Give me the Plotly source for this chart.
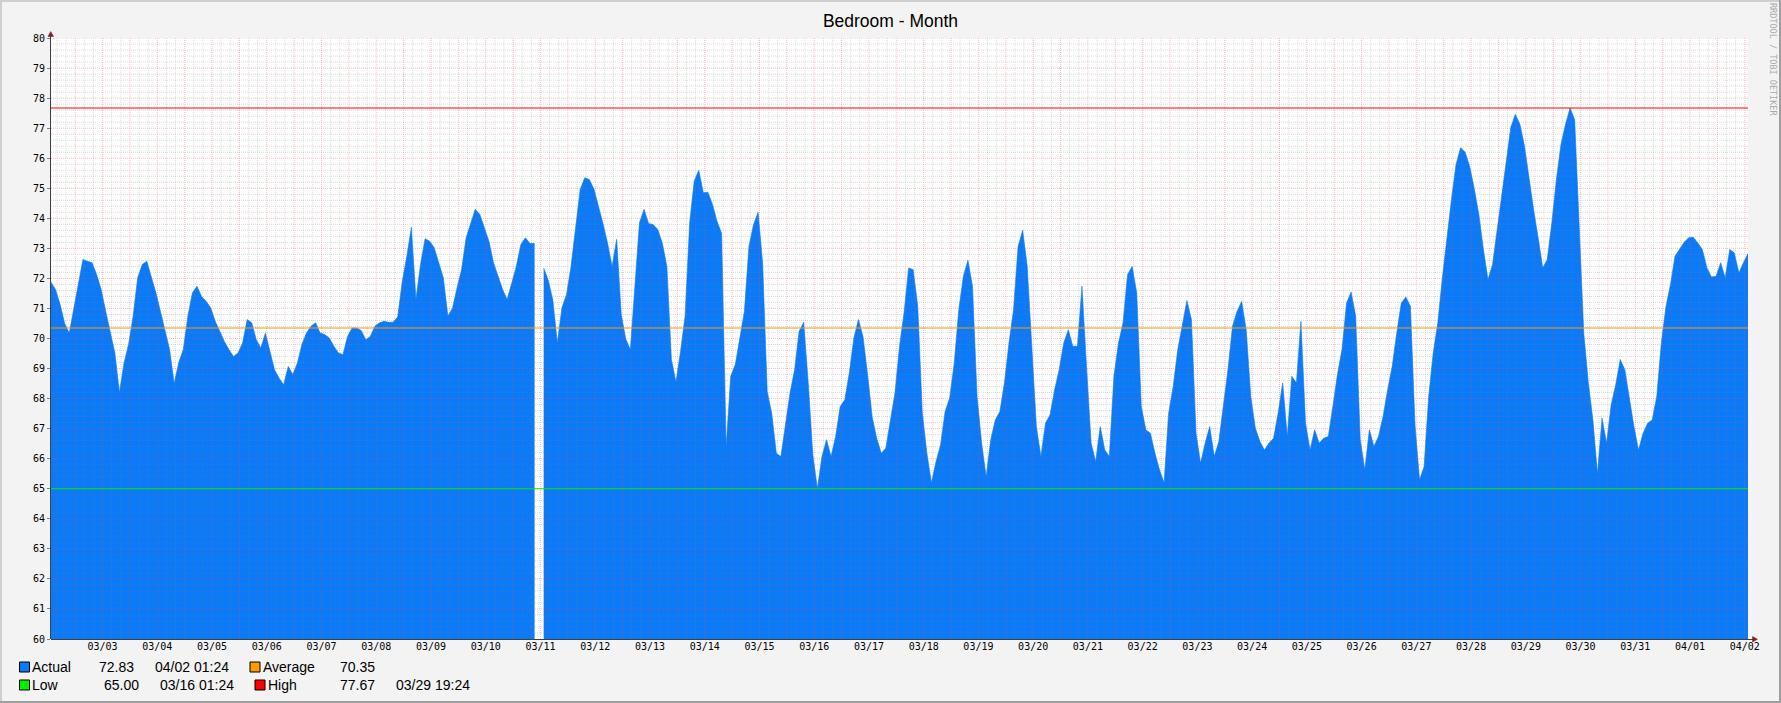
import plotly.graph_objects as go
from datetime import datetime, timedelta

# ---------------- data ----------------
title_text = "Bedroom - Month"
start_time = datetime(2014, 3, 2, 1, 24)
step_hours = 2

# one row per day, 2-hour samples starting 03/02 01:24 (None = missing sample)
temperature = [
    71.87, 71.63, 71.13, 70.50, 70.18, 71.02, 71.90, 72.63, 72.57, 72.52, 72.13, 71.63,
    70.90, 70.18, 69.52, 68.20, 69.18, 69.80, 70.74, 72.02, 72.46, 72.57, 72.07, 71.52,
    70.90, 70.24, 69.63, 68.50, 69.20, 69.63, 70.74, 71.52, 71.74, 71.40, 71.24, 71.02,
    70.57, 70.24, 69.90, 69.63, 69.40, 69.52, 69.85, 70.63, 70.52, 69.96, 69.68, 70.18,
    69.52, 68.96, 68.68, 68.46, 69.07, 68.80, 69.18, 69.80, 70.18, 70.41, 70.52, 70.18,
    70.13, 70.02, 69.74, 69.52, 69.46, 70.07, 70.35, 70.35, 70.27, 69.96, 70.07, 70.41,
    70.52, 70.57, 70.54, 70.54, 70.72, 71.90, 72.74, 73.70, 71.30, 72.46, 73.32, 73.24,
    73.02, 72.52, 72.02, 70.75, 71.00, 71.68, 72.29, 73.35, 73.85, 74.30, 74.13, 73.65,
    73.24, 72.52, 72.07, 71.63, 71.30, 71.87, 72.40, 73.13, 73.35, 73.16, 73.16, None,
    72.35, 71.94, 71.29, 69.85, 71.02, 71.46, 72.40, 73.74, 74.96, 75.35, 75.29, 74.98,
    74.43, 73.83, 73.18, 72.40, 73.30, 70.80, 69.98, 69.63, 71.74, 73.85, 74.30, 73.83,
    73.79, 73.63, 73.18, 72.40, 69.30, 68.55, 69.57, 70.74, 73.85, 75.24, 75.60, 74.85,
    74.87, 74.46, 73.90, 73.50, 66.40, 68.74, 69.13, 69.96, 70.90, 73.07, 73.79, 74.20,
    72.50, 68.24, 67.50, 66.18, 66.07, 67.13, 68.18, 68.96, 70.24, 70.54, 68.52, 66.13,
    65.00, 66.07, 66.63, 66.07, 66.74, 67.74, 67.96, 68.85, 70.02, 70.63, 70.07, 68.80,
    67.40, 66.68, 66.18, 66.35, 67.29, 68.18, 69.74, 70.85, 72.35, 72.29, 71.07, 67.52,
    66.18, 65.20, 65.90, 66.46, 67.57, 68.02, 69.18, 70.96, 72.07, 72.60, 71.74, 68.07,
    66.52, 65.40, 66.63, 67.29, 67.57, 68.52, 69.85, 70.96, 73.07, 73.60, 72.40, 69.85,
    67.07, 66.07, 67.18, 67.46, 68.29, 68.96, 69.85, 70.29, 69.74, 69.74, 71.74, 69.07,
    66.52, 65.90, 67.07, 66.29, 66.07, 68.74, 69.85, 70.52, 72.13, 72.40, 71.52, 67.74,
    66.96, 66.85, 66.18, 65.63, 65.20, 67.52, 68.41, 69.63, 70.41, 71.26, 70.63, 66.85,
    65.85, 66.52, 67.07, 66.07, 66.57, 67.74, 68.96, 70.41, 70.90, 71.24, 70.29, 68.07,
    67.02, 66.57, 66.29, 66.52, 66.68, 67.52, 68.52, 66.74, 68.74, 68.52, 70.57, 67.18,
    66.29, 66.96, 66.52, 66.68, 66.74, 67.74, 68.80, 69.63, 71.18, 71.55, 70.74, 66.63,
    65.63, 66.96, 66.41, 66.74, 67.40, 68.29, 69.07, 70.18, 71.18, 71.38, 71.07, 67.13,
    65.30, 65.74, 68.07, 69.52, 70.52, 72.02, 73.40, 74.63, 75.79, 76.35, 76.20, 75.72,
    74.98, 74.13, 72.96, 71.96, 72.46, 73.63, 74.80, 75.96, 77.02, 77.46, 77.13, 76.41,
    75.32, 74.29, 73.35, 72.35, 72.63, 73.85, 75.29, 76.46, 77.13, 77.67, 77.29, 74.00,
    70.18, 68.52, 67.29, 65.50, 67.35, 66.52, 67.79, 68.46, 69.30, 68.96, 67.96, 67.07,
    66.29, 66.85, 67.18, 67.29, 68.07, 69.85, 71.05, 71.79, 72.74, 72.96, 73.20, 73.35,
    73.37, 73.18, 72.96, 72.35, 72.05, 72.07, 72.52, 72.02, 72.96, 72.85, 72.18, 72.52,
    72.83,
]

x_tick_labels = ["03/03", "03/04", "03/05", "03/06", "03/07", "03/08", "03/09", "03/10",
                 "03/11", "03/12", "03/13", "03/14", "03/15", "03/16", "03/17", "03/18",
                 "03/19", "03/20", "03/21", "03/22", "03/23", "03/24", "03/25", "03/26",
                 "03/27", "03/28", "03/29", "03/30", "03/31", "04/01", "04/02"]
y_tick_values = list(range(60, 81))
y_range = [60, 80]

actual_value, actual_time = 72.83, "04/02 01:24"
average_value = 70.35
low_value, low_time = 65.00, "03/16 01:24"
high_value, high_time = 77.67, "03/29 19:24"

# ---------------- styling ----------------
W, H = 1781, 703
L, R, T, B = 51, 1748, 38, 639
AREA = "#0a7af8"
MINOR = "rgba(128,128,128,0.28)"
MAJOR = "rgba(230,80,80,0.36)"
ARROW = "#8b1a1a"
AXIS = "#404040"
C_AVG, C_LOW, C_HIGH = "#ff9900", "#00ee00", "#ff0000"


def px(x):
    return (x - L) / (R - L)


def py(y):
    return (B - y) / (B - T)


times = [start_time + timedelta(hours=step_hours * i) for i in range(len(temperature))]
t_end = times[-1]
tick_vals = [datetime(start_time.year, int(s[:2]), int(s[3:])) for s in x_tick_labels]

# split the series at missing samples so the area shows a real gap
segments, cur_x, cur_y = [], [], []
for tt, v in zip(times, temperature):
    if v is None:
        if cur_x:
            segments.append((cur_x, cur_y))
        cur_x, cur_y = [], []
    else:
        cur_x.append(tt)
        cur_y.append(v)
if cur_x:
    segments.append((cur_x, cur_y))

fig = go.Figure()
for sx, sy in segments:
    fig.add_trace(go.Scatter(
        x=sx, y=sy, mode="lines", fill="tozeroy", fillcolor=AREA,
        line=dict(color=AREA, width=0.6), hoverinfo="skip", showlegend=False,
    ))

shapes = []
# vertical grid: minor every 4 h, major every 12 h
t = datetime(start_time.year, start_time.month, start_time.day) + timedelta(hours=4)
while t < t_end:
    major = t.hour % 12 == 0
    shapes.append(dict(type="line", xref="x", yref="paper", x0=t, x1=t, y0=0, y1=1,
                       layer="above",
                       line=dict(color=MAJOR if major else MINOR, width=1, dash="1px,1px")))
    t += timedelta(hours=4)
# horizontal grid: minor every 0.2, major every 1
for i in range(1, 101):
    v = y_range[0] + i * 0.2
    major = i % 5 == 0
    shapes.append(dict(type="line", xref="paper", yref="y", x0=0, x1=1, y0=v, y1=v,
                       layer="above",
                       line=dict(color=MAJOR if major else MINOR, width=1, dash="1px,1px")))
# hrules
for val, col in [(high_value, C_HIGH), (average_value, C_AVG), (low_value, C_LOW)]:
    shapes.append(dict(type="line", xref="paper", yref="y", x0=0, x1=1, y0=val, y1=val,
                       layer="above", line=dict(color=col, width=1.1)))

# axes lines + arrows
shapes.append(dict(type="line", xref="paper", yref="paper", x0=px(L - 0.5), x1=px(L - 0.5),
                   y0=py(B), y1=py(36), layer="above", line=dict(color=AXIS, width=1)))
shapes.append(dict(type="line", xref="paper", yref="paper", x0=px(L), x1=px(1753),
                   y0=py(B + 0.5), y1=py(B + 0.5), layer="above", line=dict(color=AXIS, width=1)))
shapes.append(dict(type="path", xref="paper", yref="paper", layer="above",
                   path=f"M {px(48)} {py(36.5)} L {px(53.5)} {py(36.5)} L {px(50.75)} {py(31.5)} Z",
                   fillcolor=ARROW, line=dict(color=ARROW, width=0.5)))
shapes.append(dict(type="path", xref="paper", yref="paper", layer="above",
                   path=f"M {px(1752.5)} {py(636.5)} L {px(1752.5)} {py(642)} L {px(1757.5)} {py(639.25)} Z",
                   fillcolor=ARROW, line=dict(color=ARROW, width=0.5)))

# image border
shapes.append(dict(type="line", xref="paper", yref="paper", x0=px(0), x1=px(W),
                   y0=py(1), y1=py(1), line=dict(color="#cfcfcf", width=2)))
shapes.append(dict(type="line", xref="paper", yref="paper", x0=px(1), x1=px(1),
                   y0=py(0), y1=py(H), line=dict(color="#cfcfcf", width=2)))
shapes.append(dict(type="line", xref="paper", yref="paper", x0=px(0), x1=px(W),
                   y0=py(H - 1), y1=py(H - 1), line=dict(color="#9e9e9e", width=2)))
shapes.append(dict(type="line", xref="paper", yref="paper", x0=px(W - 1), x1=px(W - 1),
                   y0=py(0), y1=py(H), line=dict(color="#9e9e9e", width=2)))

# legend squares
for (x0, y0, col) in [(19.5, 662, AREA), (250, 662, C_AVG), (19.5, 680, C_LOW), (255, 680, C_HIGH)]:
    shapes.append(dict(type="rect", xref="paper", yref="paper", x0=px(x0), x1=px(x0 + 10),
                       y0=py(y0), y1=py(y0 + 10), fillcolor=col, line=dict(color="black", width=1)))

annotations = []
LEG_FONT = dict(family="Liberation Sans", size=14, color="#000000")
row1, row2 = 667, 685
legend_items = [
    (32, row1, "Actual"), (99, row1, f"{actual_value:.2f}"), (155, row1, actual_time),
    (263, row1, "Average"), (340, row1, f"{average_value:.2f}"),
    (32, row2, "Low"), (104, row2, f"{low_value:.2f}"), (160, row2, low_time),
    (268, row2, "High"), (340, row2, f"{high_value:.2f}"), (396, row2, high_time),
]
for x, y, txt in legend_items:
    annotations.append(dict(xref="paper", yref="paper", x=px(x - 2), y=py(y), text=txt,
                            showarrow=False, xanchor="left", yanchor="middle", font=LEG_FONT))

annotations.append(dict(xref="paper", yref="paper", x=px(1773), y=py(60),
                        text="RRDTOOL / TOBI OETIKER", textangle=90, showarrow=False,
                        xanchor="center", yanchor="middle",
                        font=dict(family="DejaVu Sans Mono", size=8.5, color="#aaaaaa")))

fig.update_layout(
    width=W, height=H,
    margin=dict(l=L, r=W - R, t=T, b=H - B, pad=0),
    paper_bgcolor="#f3f3f3", plot_bgcolor="#ffffff",
    title=dict(text=title_text, x=0.5, xref="container", xanchor="center",
               y=1 - 20.5 / H, yanchor="middle", yref="container",
               font=dict(family="Liberation Sans", size=17.5, color="#000000")),
    shapes=shapes, annotations=annotations, showlegend=False,
    xaxis=dict(range=[start_time, t_end], tickvals=tick_vals, ticktext=x_tick_labels,
               showgrid=False, zeroline=False, showline=False, ticks="",
               tickfont=dict(family="DejaVu Sans Mono", size=10, color="#000000")),
    yaxis=dict(range=y_range, tickvals=y_tick_values, ticktext=[str(v) for v in y_tick_values],
               showgrid=False, zeroline=False, showline=False, ticks="outside", ticklen=3,
               tickcolor="#808080",
               tickfont=dict(family="DejaVu Sans Mono", size=10, color="#000000")),
)

fig.write_html("out.html", config={"displayModeBar": False},
               post_script="document.body.style.margin='0px';document.body.style.overflow='hidden';")
